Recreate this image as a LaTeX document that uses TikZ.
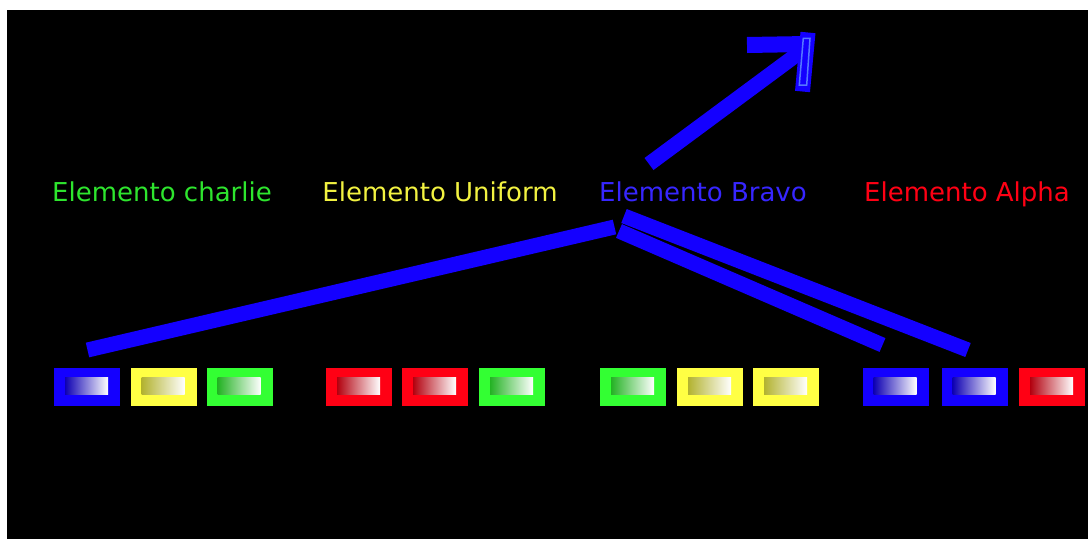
\documentclass[tikz,border=0pt]{standalone}
\usepackage{fontspec}
\setmainfont{DejaVu Sans}
\definecolor{eblue}{HTML}{1400FF}
\definecolor{eyellow}{HTML}{FFFF44}
\definecolor{egreen}{HTML}{33FF33}
\definecolor{ered}{HTML}{FF0014}
\definecolor{eglow}{HTML}{5577FF}
\usetikzlibrary{calc}

\begin{document}
\begin{tikzpicture}[x=1pt, y=-1pt,
  lbl/.style={font=\fontsize{26}{30}\selectfont, anchor=base},
  bar/.style={draw=eblue, line width=15pt}
]
  \useasboundingbox (0,0) rectangle (1088,539);
  \fill[black] (7,10) rectangle (1088,539);

  % labels
  \node[lbl, text=egreen!90!black] (charlie) at (162,201) {Elemento charlie};
  \node[lbl, text=eyellow!95!black] (uniform) at (440,201) {Elemento Uniform};
  \node[lbl, text=eblue!85!white] (bravo) at (703,201) {Elemento Bravo};
  \node[lbl, text=ered] (alpha) at (967,201) {Elemento Alpha};

  % boxes with a fade inside
  \foreach \x/\c [count=\i] in {54/eblue, 130.7/eyellow, 206.7/egreen,
      326/ered, 402/ered, 479/egreen,
      600/egreen, 677/eyellow, 753/eyellow,
      862.7/eblue, 941.7/eblue, 1019/ered} {
    \fill[\c] (\x,367.7) rectangle ++(66,38);
    \shade[left color=\c!70!black, middle color=white, right color=white]
      ($(\x,377.7)+(11,0)$) rectangle ++(43,17);
    \coordinate (box\i) at ($(\x,367.7)+(33,0)$);
  }

  % fan of bars under Bravo
  \coordinate (f1) at (614.5,227);
  \coordinate (f2) at (619,231);
  \coordinate (f3) at (624,216);
  \coordinate (e1) at (87.5,350);
  \coordinate (e2) at (882.5,345);
  \coordinate (e3) at (968,350);
  \draw[bar] (f1) -- (e1);
  \draw[bar] (f2) -- (e2);
  \draw[bar] (f3) -- (e3);

  % big arrow
  \coordinate (tail) at (649,164);
  \coordinate (tip) at (803,50);
  \draw[bar] (tail) -- (tip);
  \draw[bar, line width=16pt] (747,45) -- (807,44);
  \draw[bar] (808,32.5) -- (802.5,91.5);
  \draw[eglow, line width=1.5pt] (803.3,38.3) -- (810,38.3) -- (806.7,85)
    -- (799.3,85) -- cycle;
\end{tikzpicture}
\end{document}
